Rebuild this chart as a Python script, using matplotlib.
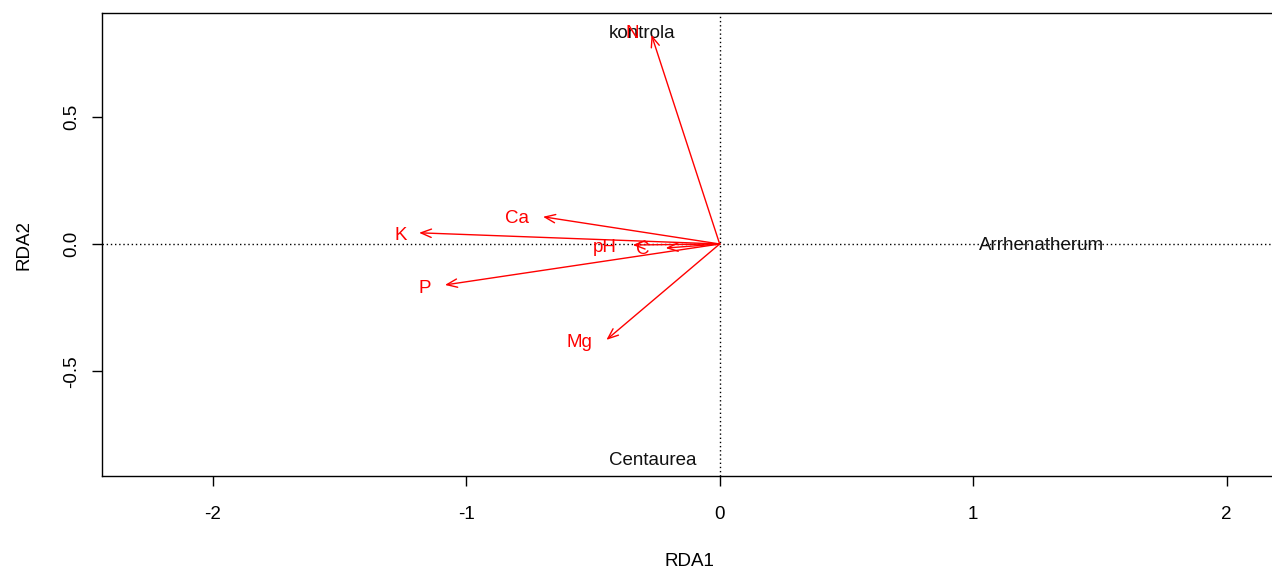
import matplotlib.pyplot as plt

# biplot scores of the environmental variables (arrow tips)
env_names = ['N', 'Ca', 'K', 'pH', 'C', 'P', 'Mg']
env_x = [-0.269, -0.697, -1.186, -0.343, -0.213, -1.084, -0.447]
env_y = [0.822, 0.107, 0.044, -0.004, -0.016, -0.161, -0.377]
# where vegan put the variable labels
lab_x = [-0.343, -0.800, -1.259, -0.453, -0.304, -1.163, -0.552]
lab_y = [0.837, 0.107, 0.042, -0.004, -0.012, -0.168, -0.381]

# centroids of the treatment levels
cent_names = ['kontrola', 'Centaurea', 'Arrhenatherum']
cent_x = [-0.307, -0.264, 1.270]
cent_y = [0.837, -0.845, 0.0]

plt.rcParams['font.family'] = ['Liberation Sans', 'DejaVu Sans']
plt.rcParams['axes.unicode_minus'] = False

FS = 13.5

fig = plt.figure(figsize=(12.72, 5.69), dpi=100)
ax = fig.add_axes([102 / 1272, 1 - 476 / 569, (1276 - 102) / 1272, (476 - 13) / 569])

ax.set_xlim(-2.437, 2.195)
ax.set_ylim(-0.912, 0.908)

ax.axhline(0, color='black', ls=(0, (1, 2)), lw=1)
ax.axvline(0, color='black', ls=(0, (1, 2)), lw=1)

for name, x, y in zip(cent_names, cent_x, cent_y):
    ax.text(x, y, name, ha='center', va='center_baseline', fontsize=FS, color='#111111')

for name, x, y, lx, ly in zip(env_names, env_x, env_y, lab_x, lab_y):
    ax.annotate('', xy=(x, y), xytext=(0, 0),
                arrowprops=dict(arrowstyle='->,head_length=0.75,head_width=0.3',
                                color='red', lw=1, shrinkA=0, shrinkB=0,
                                mutation_scale=10))
    ax.text(lx, ly, name, ha='center', va='center_baseline', fontsize=FS, color='red')

ax.set_xticks([-2, -1, 0, 1, 2])
ax.set_yticks([-0.5, 0.0, 0.5])
ax.set_yticklabels(['-0.5', '0.0', '0.5'], rotation=90, va='center')
ax.tick_params(direction='out', length=7.5, width=1, labelsize=FS)
ax.tick_params(axis='x', pad=14)
ax.tick_params(axis='y', pad=8)
for s in ax.spines.values():
    s.set_linewidth(1)

ax.set_xlabel('RDA1', fontsize=FS, labelpad=22)
ax.set_ylabel('RDA2', fontsize=FS, labelpad=22)

fig.savefig('out.png', dpi=100)
